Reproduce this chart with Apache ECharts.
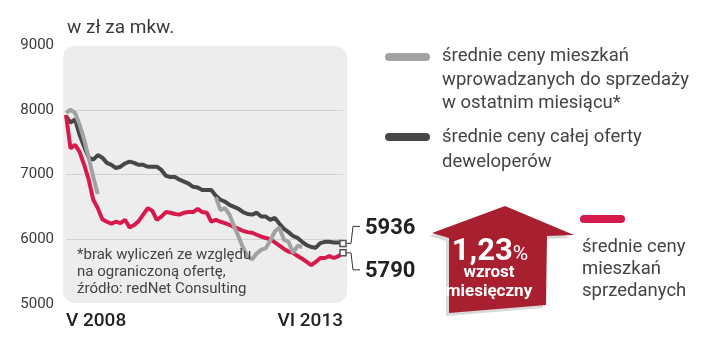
<!DOCTYPE html>
<html><head><meta charset="utf-8">
<script src="https://cdn.jsdelivr.net/npm/echarts@6/dist/echarts.min.js"></script>
<style>html,body{margin:0;padding:0;background:#fff}#c{width:720px;height:356px}</style>
</head><body><div id="c"></div>
<script>
// categories: months V 2008 .. VI 2013
const romans = ['I','II','III','IV','V','VI','VII','VIII','IX','X','XI','XII'];
const months = [];
for (let y = 2008; y <= 2013; y++) {
  for (let m = 0; m < 12; m++) {
    if (y === 2008 && m < 4) continue;
    if (y === 2013 && m > 5) continue;
    months.push(romans[m] + ' ' + y);
  }
}
const xTickLabels = ['V 2008', 'VI 2013'];
const yTicks = [5000, 6000, 7000, 8000, 9000];

// średnie ceny mieszkań sprzedanych (red)
const sold = [7920,7400,7460,7350,7150,6920,6610,6480,6310,6270,6240,6270,6250,6300,6180,6220,6280,6380,6480,6440,6300,6350,6420,6410,6390,6380,6410,6420,6420,6470,6420,6410,6270,6300,6270,6250,6220,6190,6160,6130,6110,6100,6070,6040,6020,6000,5950,5900,5850,5810,5790,5740,5700,5650,5600,5650,5710,5710,5740,5710,5740,5790];
// średnie ceny całej oferty deweloperów (dark)
const offer = [7900,7800,7850,7610,7430,7260,7230,7300,7260,7180,7150,7100,7120,7170,7200,7180,7150,7150,7120,7120,7120,7070,6980,6960,6960,6920,6890,6860,6810,6800,6760,6760,6760,6670,6610,6580,6530,6500,6470,6420,6390,6380,6410,6350,6350,6300,6330,6240,6160,6110,6050,6020,5960,5910,5880,5870,5940,5960,5960,5950,5950,5936];
// średnie ceny mieszkań wprowadzanych do sprzedaży w ostatnim miesiącu (gray)
const newUnits = [7950,8000,7950,7770,7540,7260,6960,6700,
  null,null,null,null,null,null,null,null,null,null,null,null,null,null,null,null,null,null,null,null,null,null,null,null,null,
  6650,6450,6480,6380,6200,6040,5870,5730,5690,5780,5840,5860,5980,6120,6180,5990,5960,5790,5900,5880,
  null,null,null,null,null,null,null,null,null];

const RED = '#d61a4b', DARK = '#474747', GRAY = '#a2a2a2', ARROW = '#a81f30';
const FONT = 'Roboto, "Noto Sans", sans-serif';

const chart = echarts.init(document.getElementById('c'), null, {renderer: 'canvas'});
const option = {
  animation: false,
  backgroundColor: '#ffffff',
  title: {text: 'w zł za mkw.', left: 62, top: 14,
    textStyle: {fontFamily: FONT, fontSize: 19, fontWeight: 'normal', color: '#3a3a3a'}},
  grid: {left: 66, right: 377, top: 45, bottom: 52},
  xAxis: {type: 'category', data: months, boundaryGap: false,
    axisLine: {show: false}, axisTick: {show: false},
    axisLabel: {interval: (i, v) => xTickLabels.includes(v), alignMinLabel: 'left', alignMaxLabel: 'right',
      showMinLabel: true, showMaxLabel: true,
      margin: 8, fontFamily: FONT, fontSize: 19, color: '#222', fontWeight: 500}},
  yAxis: {type: 'value', min: yTicks[0], max: yTicks[yTicks.length - 1], interval: 1000,
    axisLine: {show: false}, axisTick: {show: false},
    axisLabel: {margin: 12, fontFamily: FONT, fontSize: 15, color: '#3a3a3a', formatter: v => String(v), padding: [5, 0, 0, 0]},
    splitLine: {show: true, lineStyle: {color: ['transparent', '#d2d2d2', '#d2d2d2', '#d2d2d2', 'transparent'], width: 1}}},
  series: [
    {name: 'oferta', type: 'line', data: offer, symbol: 'none', lineStyle: {color: DARK, width: 4}, z: 3},
    {name: 'sprzedane', type: 'line', data: sold, symbol: 'none', lineStyle: {color: RED, width: 4}, z: 4},
    {name: 'nowe', type: 'line', data: newUnits, symbol: 'none', connectNulls: false, lineStyle: {color: GRAY, width: 4}, z: 5}
  ],
  graphic: []
};
chart.setOption(option);

const last = months.length - 1;
const pOffer = chart.convertToPixel({xAxisIndex: 0, yAxisIndex: 0}, [last, offer[last]]);
const pSold = chart.convertToPixel({xAxisIndex: 0, yAxisIndex: 0}, [last, sold[last]]);
const pTop = chart.convertToPixel({xAxisIndex: 0, yAxisIndex: 0}, [0, yTicks[yTicks.length - 1]]);
const pBot = chart.convertToPixel({xAxisIndex: 0, yAxisIndex: 0}, [last, yTicks[0]]);

const g = [];
// plot background (rounded)
g.push({type: 'rect', z: -10, shape: {x: pTop[0] - 3, y: pTop[1] + 1, width: pBot[0] - pTop[0] + 7, height: pBot[1] - pTop[1] - 2, r: 12},
  style: {fill: '#ededed'}});
// footnote
g.push({type: 'text', z: 10, x: 77, y: 247, style: {text: '*brak wyliczeń ze względu\nna ograniczoną ofertę,\nźródło: redNet Consulting',
  font: '15px ' + FONT, fill: '#444', lineHeight: 17}});
// end markers + connectors + value labels
function endLabel(p, dir, val) {
  const dy = dir * 17;
  g.push({type: 'polyline', z: 20, shape: {points: [[p[0] + 3, p[1]], [p[0] + 8, p[1]], [p[0] + 10, p[1] + dy], [p[0] + 17, p[1] + dy]]},
    style: {stroke: '#333', lineWidth: 1, fill: null}});
  g.push({type: 'rect', z: 21, shape: {x: p[0] - 3, y: p[1] - 3, width: 6, height: 6},
    style: {fill: '#fff', stroke: '#555', lineWidth: 1.5}});
  g.push({type: 'text', z: 21, x: p[0] + 22, y: p[1] + dy + 2, style: {text: String(val), font: 'bold 22px ' + FONT,
    fill: '#222', verticalAlign: 'middle'}});
}
endLabel(pOffer, -1, offer[last]);
endLabel(pSold, 1, sold[last]);

// legend
function legendItem(x, y, color, lines, lh) {
  g.push({type: 'rect', z: 10, shape: {x: x, y: y - 4, width: 45, height: 8, r: 4}, style: {fill: color}});
  g.push({type: 'text', z: 10, x: x + 57, y: y - 12, style: {text: lines, font: '18.5px ' + FONT, fill: '#444', lineHeight: lh}});
}
legendItem(385, 57, GRAY, 'średnie ceny mieszkań\nwprowadzanych do sprzedaży\nw ostatnim miesiącu*', 23.5);
legendItem(385, 137, DARK, 'średnie ceny całej oferty\ndeweloperów', 25);
g.push({type: 'rect', z: 10, shape: {x: 580, y: 215, width: 45, height: 8, r: 4}, style: {fill: RED}});
g.push({type: 'text', z: 10, x: 582, y: 236, style: {text: 'średnie ceny\nmieszkań\nsprzedanych', font: '18.5px ' + FONT, fill: '#444', lineHeight: 22}});

// arrow
const arrowPts = [[432, 233], [505, 206], [574, 235], [547, 236], [546, 305], [449, 313], [449, 238]];
g.push({type: 'polygon', z: 8, shape: {points: arrowPts.map(p => [p[0] - 3, p[1] + 3])}, style: {fill: '#d9d9d9'}});
g.push({type: 'polygon', z: 9, shape: {points: arrowPts}, style: {fill: ARROW}});
g.push({type: 'text', z: 11, x: 490, y: 252, style: {
  text: '{a|1,23}{b|%}', align: 'center', verticalAlign: 'middle',
  rich: {a: {font: 'bold 31px ' + FONT, fill: '#fff'}, b: {font: '21px ' + FONT, fill: '#fff', padding: [6, 0, 0, 0]}}}});
g.push({type: 'text', z: 11, x: 489, y: 282, style: {text: 'wzrost\nmiesięczny', font: 'bold 17px ' + FONT, fill: '#fff',
  align: 'center', verticalAlign: 'middle', lineHeight: 19}});

chart.setOption({graphic: g});
</script></body></html>
